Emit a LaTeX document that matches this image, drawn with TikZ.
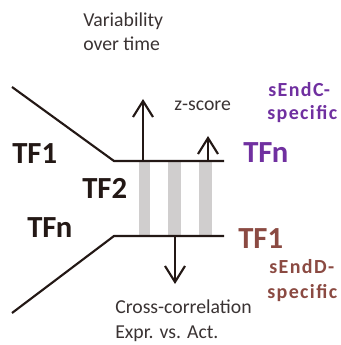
\documentclass[tikz,border=0pt]{standalone}
\usepackage{fontspec}
\setmainfont{Carlito}
\usetikzlibrary{arrows.meta}
\definecolor{ink}{HTML}{231815}
\definecolor{txt}{HTML}{3A3333}
\definecolor{purp}{HTML}{7030A0}
\definecolor{brn}{HTML}{8B4A42}
\definecolor{barc}{HTML}{D0CECE}
\begin{document}
\begin{tikzpicture}[x=0.75pt,y=-0.75pt,
  wire/.style={draw=ink,line width=1.6pt},
  arr/.style={wire,-{Straight Barb[length=12pt,width=15pt,line width=1.6pt]}},
  lbl/.style={inner sep=0pt,anchor=base west,text=txt,font=\fontsize{14.8pt}{17pt}\selectfont},
  tfbig/.style={inner sep=0pt,anchor=base west,font=\fontsize{23pt}{26pt}\selectfont\bfseries},
  spec/.style={inner sep=0pt,anchor=base west,font=\fontsize{15pt}{18pt}\selectfont\bfseries\addfontfeature{LetterSpace=7}}]
\useasboundingbox (0,0) rectangle (341,345);
% gray bars
\fill[barc] (139,161) rectangle (150,236);
\fill[barc] (168,161) rectangle (181,236);
\fill[barc] (199,161) rectangle (212,236);
% lines
\coordinate (a1) at (12,87);
\coordinate (b1) at (114,161);
\coordinate (c1) at (224,161);
\coordinate (a2) at (12,313);
\coordinate (b2) at (114,236);
\coordinate (c2) at (224,236);
\draw[wire] (a1) -- (b1) -- (c1);
\draw[wire] (a2) -- (b2) -- (c2);
% arrows
\coordinate (u1s) at (143,161); \coordinate (u1e) at (143,99);
\coordinate (u2s) at (208,161); \coordinate (u2e) at (208,136);
\coordinate (ds) at (175,236); \coordinate (de) at (175,284);
\draw[arr] (u1s) -- (u1e);
\draw[arr] (u2s) -- (u2e);
\draw[arr] (ds) -- (de);
% labels
\node[lbl] (var1) at (83,27) {Variability};
\node[lbl] (var2) at (83,51) {over time};
\node[lbl] (zs) at (174,111) {z-score};
\node[lbl] (cc1) at (115,313) {Cross-correlation};
\node[lbl] (cc2) at (115,338) {Expr. vs. Act.};
\node[tfbig,text=ink] (tf1l) at (12,163) {TF1};
\node[tfbig,text=ink] (tf2l) at (82,198) {TF2};
\node[tfbig,text=ink] (tfnl) at (27,237) {TFn};
\node[tfbig,text=purp] (tfnr) at (243,162) {TFn};
\node[tfbig,text=brn] (tf1r) at (238,248) {TF1};
\node[spec,text=purp] (sc1) at (268,97) {sEndC-};
\node[spec,text=purp] (sc2) at (267,120) {specific};
\node[spec,text=brn] (sd1) at (269,273) {sEndD-};
\node[spec,text=brn] (sd2) at (267,298) {specific};
\end{tikzpicture}
\end{document}
